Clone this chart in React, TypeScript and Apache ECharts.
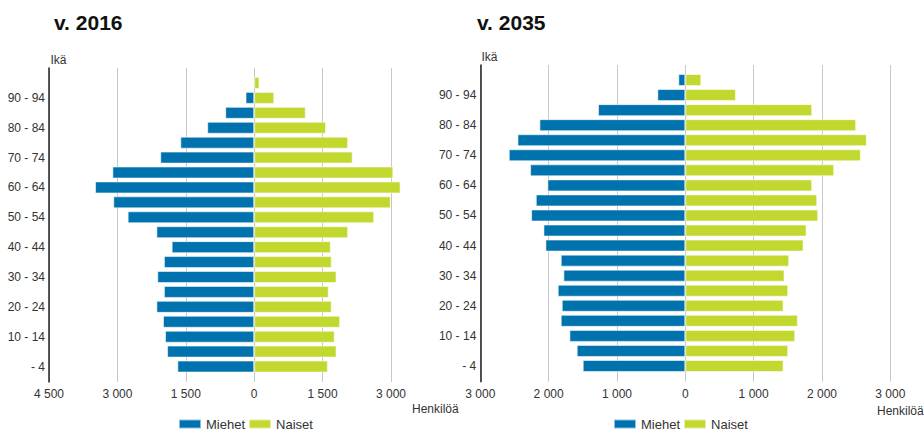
import React, { useEffect, useRef } from "react";
import * as echarts from "echarts";

const ageGroups = [
  "- 4", "5 - 9", "10 - 14", "15 - 19", "20 - 24", "25 - 29", "30 - 34", "35 - 39",
  "40 - 44", "45 - 49", "50 - 54", "55 - 59", "60 - 64", "65 - 69", "70 - 74",
  "75 - 79", "80 - 84", "85 - 89", "90 - 94", "95 -",
];

// 2016 (from youngest to oldest)
const men2016 = [1685, 1910, 1955, 2000, 2145, 1980, 2125, 1980, 1810, 2145, 2775, 3090, 3490, 3110, 2060, 1620, 1030, 635, 190, 20];
const women2016 = [1615, 1805, 1765, 1885, 1700, 1635, 1805, 1700, 1680, 2060, 2630, 2995, 3210, 3050, 2160, 2060, 1575, 1130, 440, 115];

// 2035
const men2035 = [1501, 1589, 1696, 1823, 1808, 1867, 1784, 1823, 2047, 2076, 2256, 2188, 2018, 2271, 2583, 2456, 2135, 1277, 409, 102];
const women2035 = [1438, 1506, 1608, 1647, 1438, 1506, 1452, 1520, 1730, 1774, 1945, 1930, 1857, 2179, 2569, 2656, 2500, 1857, 741, 234];

const leftTicks = { min: -4500, max: 3000, interval: 1500 };
const rightTicks = { min: -3000, max: 3000, interval: 1000 };

const BLUE = "#0072AE";
const GREEN = "#C2D82E";
const FONT = "'Liberation Sans', Arial, sans-serif";

const fmt = (v: number) => String(Math.abs(v)).replace(/\B(?=(\d{3})+(?!\d))/g, " ");

export default function App() {
  const ref = useRef<HTMLDivElement>(null);
  useEffect(() => {
    if (!ref.current) return;
    const chart = echarts.init(ref.current, undefined, { renderer: "svg" });

    const frames = [
      { left: 49, width: 342, top: 68, height: 314 },
      { left: 480.3, width: 410, top: 65, height: 316.7 },
    ];
    const ticks = [leftTicks, rightTicks];
    // data grids extend beyond the last gridline so long bars are not clipped
    const extra = [1000, 0];
    const datas = [
      { left: 49, width: (342 * (7500 + extra[0])) / 7500, top: 75.5, height: 298.5 },
      { left: 480.3, width: 410, top: 72.5, height: 301 },
    ];

    const grid: any[] = [];
    const xAxis: any[] = [];
    const yAxis: any[] = [];
    for (let i = 0; i < 2; i++) {
      grid.push({ ...frames[i], containLabel: false });
      grid.push({ ...datas[i], containLabel: false });
      xAxis.push({
        gridIndex: i * 2,
        type: "value",
        min: ticks[i].min,
        max: ticks[i].max,
        interval: ticks[i].interval,
        axisLine: { show: false },
        axisTick: { show: false },
        splitLine: { show: true, lineStyle: { color: "#c8c8c8", width: 1 } },
        axisLabel: { formatter: fmt, color: "#333", fontSize: 12, margin: 6, fontFamily: FONT },
      });
      yAxis.push({
        gridIndex: i * 2,
        type: "value",
        min: 0,
        max: 1,
        axisLine: { show: true, onZero: false, lineStyle: { color: "#222", width: 1.5 } },
        axisTick: { show: false },
        axisLabel: { show: false },
        splitLine: { show: false },
      });
      xAxis.push({
        gridIndex: i * 2 + 1,
        type: "value",
        min: ticks[i].min,
        max: ticks[i].max + extra[i],
        show: false,
        splitLine: { show: false },
      });
      yAxis.push({
        gridIndex: i * 2 + 1,
        type: "category",
        data: ageGroups,
        axisLine: { show: false },
        axisTick: { show: false },
        splitLine: { show: false },
        axisLabel: { interval: 1, margin: 4, color: "#333", fontSize: 12, fontFamily: FONT },
      });
    }

    const barBase = {
      type: "bar",
      barWidth: 12,
      barGap: "-100%",
      itemStyle: { borderColor: "rgba(255,255,255,0.55)", borderWidth: 1 },
    };
    const series: any[] = [
      { ...barBase, name: "Miehet", xAxisIndex: 1, yAxisIndex: 1, data: men2016.map((v) => -v), itemStyle: { ...barBase.itemStyle, color: BLUE } },
      { ...barBase, name: "Naiset", xAxisIndex: 1, yAxisIndex: 1, data: women2016, itemStyle: { ...barBase.itemStyle, color: GREEN } },
      { ...barBase, name: "Miehet", xAxisIndex: 3, yAxisIndex: 3, data: men2035.map((v) => -v), itemStyle: { ...barBase.itemStyle, color: BLUE } },
      { ...barBase, name: "Naiset", xAxisIndex: 3, yAxisIndex: 3, data: women2035, itemStyle: { ...barBase.itemStyle, color: GREEN } },
    ];

    const legendBase = {
      data: ["Miehet", "Naiset"],
      icon: "rect",
      itemWidth: 22,
      itemHeight: 9,
      itemGap: 3,
      padding: 0,
      top: 417.5,
      selectedMode: false,
      textStyle: { color: "#333", fontSize: 13, fontFamily: FONT },
    };

    const txt = (text: string, x: number, y: number, font: string, fill = "#333") => ({
      type: "text",
      x,
      y,
      style: { text, font, fill, textVerticalAlign: "middle", verticalAlign: "middle" },
    });

    chart.setOption({
      animation: false,
      textStyle: { fontFamily: FONT },
      grid,
      xAxis,
      yAxis,
      series,
      legend: [
        { ...legendBase, left: 178 },
        { ...legendBase, left: 613 },
      ],
      graphic: [
        txt("v. 2016", 54, 22, `bold 21px ${FONT}`, "#111"),
        txt("v. 2035", 477, 22, `bold 21px ${FONT}`, "#111"),
        txt("Ikä", 50.5, 60, `12px ${FONT}`),
        txt("Ikä", 481.5, 56.5, `12px ${FONT}`),
        txt("Henkilöä", 412, 409, `12px ${FONT}`),
        txt("Henkilöä", 877, 411, `12px ${FONT}`),
      ],
    });
    return () => chart.dispose();
  }, []);
  return (
    <div
      ref={ref}
      style={{ position: "absolute", left: 0, top: 0, width: 924, height: 435, background: "#fff" }}
    />
  );
}
